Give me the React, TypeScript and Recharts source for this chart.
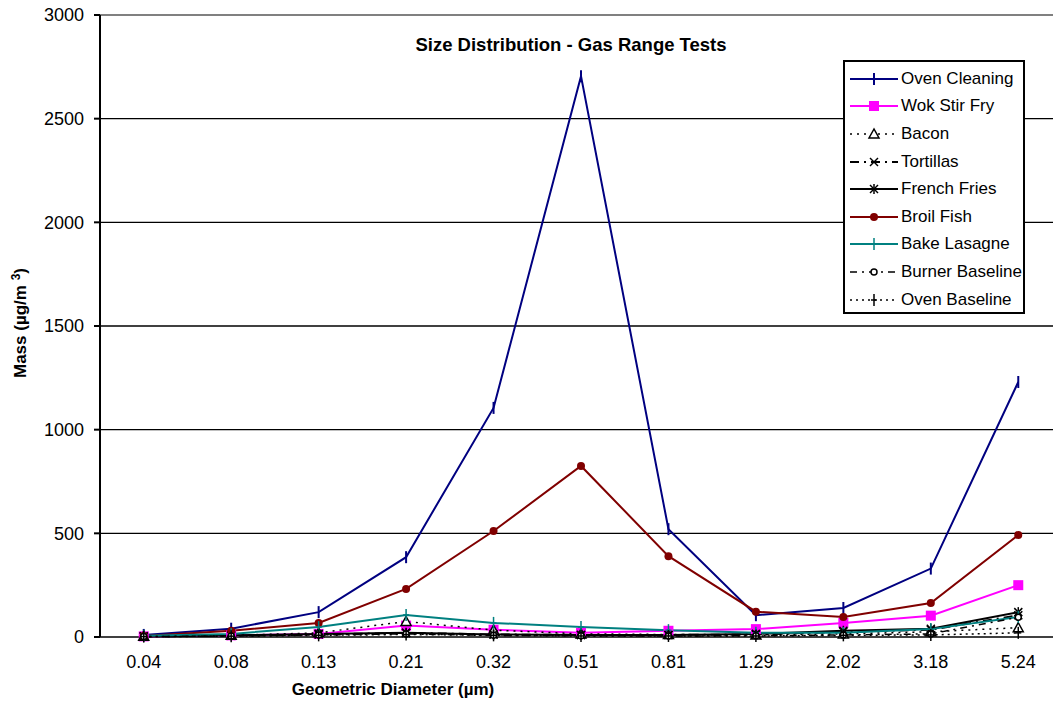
import React from "react";
import {
  LineChart, Line, XAxis, YAxis, CartesianGrid, ReferenceLine,
} from "recharts";

// ── data ────────────────────────────────────────────────────────────────────
const diameters = ["0.04", "0.08", "0.13", "0.21", "0.32", "0.51", "0.81", "1.29", "2.02", "3.18", "5.24"];

const ovenCleaning   = [10, 40, 120, 385, 1105, 2705, 520, 105, 140, 330, 1230];
const wokStirFry     = [3, 8, 15, 55, 35, 20, 30, 38, 68, 103, 250];
const bacon          = [4, 8, 20, 75, 33, 15, 12, 10, 15, 25, 45];
const tortillas      = [3, 6, 12, 20, 12, 10, 10, 12, 25, 35, 105];
const frenchFries    = [3, 8, 15, 20, 12, 10, 10, 15, 30, 40, 120];
const broilFish      = [5, 30, 68, 232, 511, 825, 390, 122, 97, 164, 492];
const bakeLasagne    = [6, 15, 48, 106, 68, 48, 33, 20, 20, 38, 97];
const burnerBaseline = [2, 5, 10, 15, 8, 6, 5, 6, 10, 15, 95];
const ovenBaseline   = [2, 4, 8, 12, 8, 5, 5, 5, 8, 10, 20];

const yTicks = [0, 500, 1000, 1500, 2000, 2500, 3000];

const FONT = "'Liberation Sans', Arial, sans-serif";

type Shape = "vbar" | "square" | "triangle" | "x" | "asterisk" | "circle" | "plus" | "ocircle";

interface SeriesDef {
  key: string;
  name: string;
  values: number[];
  color: string;
  width: number;
  dash?: string;
  shape: Shape;
}

const series: SeriesDef[] = [
  { key: "ovenCleaning",   name: "Oven Cleaning",   values: ovenCleaning,   color: "#000080", width: 2,   shape: "vbar" },
  { key: "wokStirFry",     name: "Wok Stir Fry",    values: wokStirFry,     color: "#FF00FF", width: 2,   shape: "square" },
  { key: "bacon",          name: "Bacon",           values: bacon,          color: "#000000", width: 1.5, dash: "2 5", shape: "triangle" },
  { key: "tortillas",      name: "Tortillas",       values: tortillas,      color: "#000000", width: 2,   dash: "9 5 2 5", shape: "x" },
  { key: "frenchFries",    name: "French Fries",    values: frenchFries,    color: "#000000", width: 2,   shape: "asterisk" },
  { key: "broilFish",      name: "Broil Fish",      values: broilFish,      color: "#800000", width: 2,   shape: "circle" },
  { key: "bakeLasagne",    name: "Bake Lasagne",    values: bakeLasagne,    color: "#008080", width: 2,   shape: "plus" },
  { key: "burnerBaseline", name: "Burner Baseline", values: burnerBaseline, color: "#000000", width: 1.5, dash: "7 5 2 5", shape: "ocircle" },
  { key: "ovenBaseline",   name: "Oven Baseline",   values: ovenBaseline,   color: "#000000", width: 1.5, dash: "2 4", shape: "plus" },
];

const chartData = diameters.map((d, i) => {
  const row: Record<string, number | string> = { i, d };
  for (const s of series) row[s.key] = s.values[i];
  return row;
});

// tick marks sit between categories, labels sit on them
const edgeTicks = diameters.map((_, i) => i - 0.5).concat([diameters.length - 0.5]);
const centerTicks = diameters.map((_, i) => i);

function Marker({ shape, color, cx, cy }: { shape: Shape; color: string; cx: number; cy: number }) {
  switch (shape) {
    case "vbar":
      return <line x1={cx} x2={cx} y1={cy - 6} y2={cy + 6} stroke={color} strokeWidth={2} />;
    case "square":
      return <rect x={cx - 5} y={cy - 5} width={10} height={10} fill={color} />;
    case "triangle":
      return <polygon points={`${cx},${cy - 5} ${cx - 5},${cy + 4} ${cx + 5},${cy + 4}`} fill="#fff" stroke={color} strokeWidth={1.5} />;
    case "x":
      return (
        <g stroke={color} strokeWidth={1.5}>
          <line x1={cx - 4} y1={cy - 4} x2={cx + 4} y2={cy + 4} />
          <line x1={cx - 4} y1={cy + 4} x2={cx + 4} y2={cy - 4} />
        </g>
      );
    case "asterisk":
      return (
        <g stroke={color} strokeWidth={1.5}>
          <line x1={cx - 4} y1={cy - 4} x2={cx + 4} y2={cy + 4} />
          <line x1={cx - 4} y1={cy + 4} x2={cx + 4} y2={cy - 4} />
          <line x1={cx} y1={cy - 5} x2={cx} y2={cy + 5} />
        </g>
      );
    case "circle":
      return <circle cx={cx} cy={cy} r={4} fill={color} />;
    case "plus":
      return (
        <g stroke={color} strokeWidth={1.5}>
          <line x1={cx} y1={cy - 6} x2={cx} y2={cy + 6} />
          <line x1={cx - 3} y1={cy} x2={cx + 3} y2={cy} />
        </g>
      );
    case "ocircle":
      return <circle cx={cx} cy={cy} r={3} fill="#fff" stroke={color} strokeWidth={1.5} />;
  }
}

const makeDot = (s: SeriesDef) => (p: any) => {
  if (!isFinite(p.cx) || !isFinite(p.cy)) return <g key={`${s.key}-${p.index}`} />;
  return (
    <g key={`${s.key}-${p.index}`}>
      <Marker shape={s.shape} color={s.color} cx={p.cx} cy={p.cy} />
    </g>
  );
};

function LegendBox() {
  return (
    <div style={{
      position: "absolute", left: 843, top: 60, width: 182, height: 254,
      border: "2px solid #000", background: "#fff", fontFamily: FONT, fontSize: 17,
      boxSizing: "border-box", padding: "3px 0 0 3px",
    }}>
      {series.map((s) => (
        <div key={s.key} style={{ display: "flex", alignItems: "center", height: 27.6, whiteSpace: "nowrap" }}>
          <svg width={50} height={20} style={{ flex: "none" }}>
            <line x1={2} x2={50} y1={10} y2={10} stroke={s.color} strokeWidth={s.width} strokeDasharray={s.dash} />
            <Marker shape={s.shape} color={s.color} cx={26} cy={10} />
          </svg>
          <span style={{ marginLeft: 3 }}>{s.name}</span>
        </div>
      ))}
    </div>
  );
}

export default function App() {
  return (
    <div style={{ position: "absolute", left: 0, top: 0, width: 1053, height: 711, overflow: "hidden", background: "#fff" }}>
      <LineChart width={1070} height={711} data={chartData}
                 margin={{ top: 15, right: 8, left: 0, bottom: 0 }}>
        <CartesianGrid vertical={false} stroke="#000" strokeWidth={1.3} horizontalValues={yTicks} />
        <ReferenceLine y={3000} stroke="#808080" strokeWidth={2} />
        <YAxis type="number" domain={[0, 3000]} ticks={yTicks} width={100}
               axisLine={{ stroke: "#000", strokeWidth: 2 }} tickLine={{ stroke: "#000", strokeWidth: 2 }}
               tickSize={6} tickMargin={10}
               tick={{ fill: "#000", fontSize: 18, fontFamily: FONT }} />
        <XAxis xAxisId="edges" type="number" dataKey="i" domain={[-0.5, diameters.length - 0.5]}
               ticks={edgeTicks} height={0} tickSize={6} tickFormatter={() => ""}
               axisLine={{ stroke: "#000", strokeWidth: 2.5 }} tickLine={{ stroke: "#000", strokeWidth: 2 }} />
        <XAxis xAxisId="cat" type="number" dataKey="i" domain={[-0.5, diameters.length - 0.5]}
               ticks={centerTicks} height={74} axisLine={false} tickLine={false} tickSize={0} tickMargin={18}
               interval={0}
               tickFormatter={(v: number) => diameters[v] ?? ""}
               tick={{ fill: "#000", fontSize: 18, fontFamily: FONT }} />
        {series.map((s) => (
          <Line key={s.key} xAxisId="cat" type="linear" dataKey={s.key} name={s.name}
                stroke={s.color} strokeWidth={s.width} strokeDasharray={s.dash}
                dot={makeDot(s)} activeDot={false} isAnimationActive={false} />
        ))}
      </LineChart>

      <div style={{ position: "absolute", left: 571, top: 34, transform: "translateX(-50%)",
                    fontFamily: FONT, fontSize: 18.5, fontWeight: 700, whiteSpace: "nowrap" }}>
        Size Distribution - Gas Range Tests
      </div>
      <div style={{ position: "absolute", left: 393, top: 680, transform: "translateX(-50%)",
                    fontFamily: FONT, fontSize: 17, fontWeight: 700, whiteSpace: "nowrap" }}>
        Geometric Diameter (µm)
      </div>
      <div style={{ position: "absolute", left: 20, top: 323, transform: "translate(-50%, -50%) rotate(-90deg)",
                    fontFamily: FONT, fontSize: 17, fontWeight: 700, whiteSpace: "nowrap" }}>
        Mass (µg/m <sup style={{ fontSize: 12 }}>3</sup>)
      </div>
      <LegendBox />
    </div>
  );
}
